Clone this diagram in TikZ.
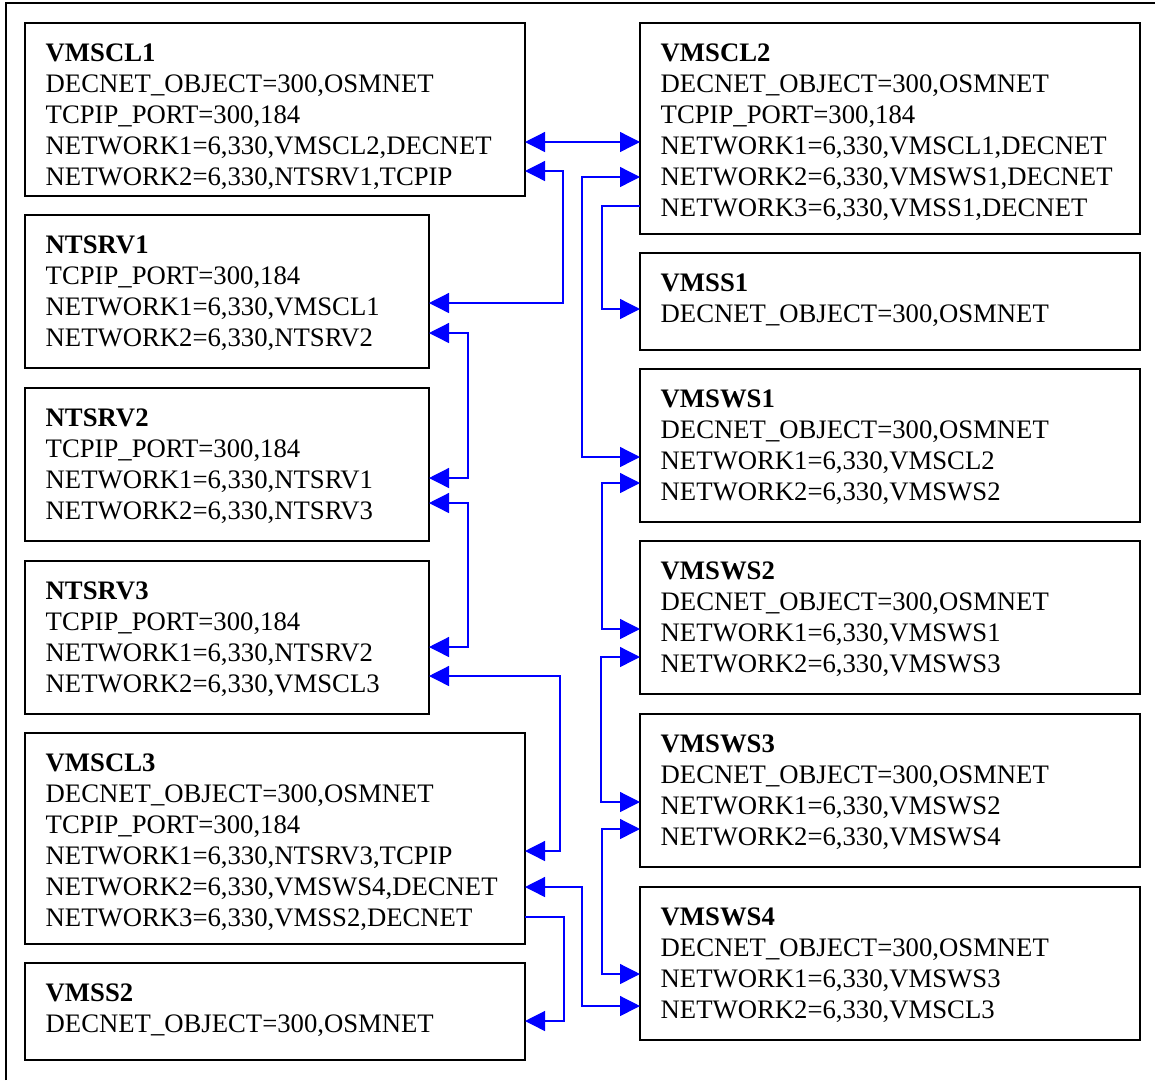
\documentclass[tikz,border=0pt]{standalone}
\usepackage{fontspec}
\setmainfont{Liberation Serif}
\usetikzlibrary{arrows.meta,calc}
\tikzset{
  box/.style={draw=black, line width=1.6pt, anchor=north west, inner sep=0pt, outer sep=0pt},
  txt/.style={anchor=base west, inner sep=0pt, font=\fontsize{26.7}{31}\selectfont},
  conn/.style={draw=blue, line width=1.3pt},
  >={Triangle[length=20pt,width=20pt]}
}
\newcommand\netbox[6]{%
  \node[box, minimum width=#4pt, minimum height=#5pt] (#1) at (#2,#3) {};
  \foreach \t [count=\i from 0] in {#6}
    \node[txt] (#1-\i) at ($(#1.north west)+(20.5,{38.5+31*\i})$) {\t};
}
\begin{document}
\begin{tikzpicture}[x=1pt,y=-1pt]
\useasboundingbox (0,0) rectangle (1155,1080);
\fill[white] (0,0) rectangle (1155,1080);
\draw[line width=2pt] (6,1080) -- (6,3) -- (1155,3);

\netbox{cl1}{25}{23}{500}{173}{{\textbf{VMSCL1}},{DECNET\_OBJECT=300,OSMNET},{TCPIP\_PORT=300,184},{NETWORK1=6,330,VMSCL2,DECNET},{NETWORK2=6,330,NTSRV1,TCPIP}}
\netbox{cl2}{640}{23}{500}{211}{{\textbf{VMSCL2}},{DECNET\_OBJECT=300,OSMNET},{TCPIP\_PORT=300,184},{NETWORK1=6,330,VMSCL1,DECNET},{NETWORK2=6,330,VMSWS1,DECNET},{NETWORK3=6,330,VMSS1,DECNET}}
\netbox{ns1}{25}{215}{404}{153}{{\textbf{NTSRV1}},{TCPIP\_PORT=300,184},{NETWORK1=6,330,VMSCL1},{NETWORK2=6,330,NTSRV2}}
\netbox{ns2}{25}{388}{404}{153}{{\textbf{NTSRV2}},{TCPIP\_PORT=300,184},{NETWORK1=6,330,NTSRV1},{NETWORK2=6,330,NTSRV3}}
\netbox{ns3}{25}{561}{404}{153}{{\textbf{NTSRV3}},{TCPIP\_PORT=300,184},{NETWORK1=6,330,NTSRV2},{NETWORK2=6,330,VMSCL3}}
\netbox{cl3}{25}{733}{500}{211}{{\textbf{VMSCL3}},{DECNET\_OBJECT=300,OSMNET},{TCPIP\_PORT=300,184},{NETWORK1=6,330,NTSRV3,TCPIP},{NETWORK2=6,330,VMSWS4,DECNET},{NETWORK3=6,330,VMSS2,DECNET}}
\netbox{ss2}{25}{963}{500}{97}{{\textbf{VMSS2}},{DECNET\_OBJECT=300,OSMNET}}
\netbox{ss1}{640}{253}{500}{97}{{\textbf{VMSS1}},{DECNET\_OBJECT=300,OSMNET}}
\netbox{ws1}{640}{369}{500}{153}{{\textbf{VMSWS1}},{DECNET\_OBJECT=300,OSMNET},{NETWORK1=6,330,VMSCL2},{NETWORK2=6,330,VMSWS2}}
\netbox{ws2}{640}{541}{500}{153}{{\textbf{VMSWS2}},{DECNET\_OBJECT=300,OSMNET},{NETWORK1=6,330,VMSWS1},{NETWORK2=6,330,VMSWS3}}
\netbox{ws3}{640}{714}{500}{153}{{\textbf{VMSWS3}},{DECNET\_OBJECT=300,OSMNET},{NETWORK1=6,330,VMSWS2},{NETWORK2=6,330,VMSWS4}}
\netbox{ws4}{640}{887}{500}{153}{{\textbf{VMSWS4}},{DECNET\_OBJECT=300,OSMNET},{NETWORK1=6,330,VMSWS3},{NETWORK2=6,330,VMSCL3}}

\draw[conn,<->] (cl1.east |- 0,142) -- (cl2.west |- 0,142);
\draw[conn,<->] (cl1.east |- 0,171) -- (563,171) -- (563,303) -- (ns1.east |- 0,303);
\draw[conn,<->] (ns1.east |- 0,333) -- (468,333) -- (468,478) -- (ns2.east |- 0,478);
\draw[conn,<->] (ns2.east |- 0,503) -- (468,503) -- (468,647) -- (ns3.east |- 0,647);
\draw[conn,<->] (ns3.east |- 0,676) -- (560,676) -- (560,851) -- (cl3.east |- 0,851);
\draw[conn,<->] (cl3.east |- 0,887) -- (582,887) -- (582,1006) -- (ws4.west |- 0,1006);
\draw[conn,->] (cl3.east |- 0,917) -- (564,917) -- (564,1021) -- (ss2.east |- 0,1021);
\draw[conn,<->] (cl2.west |- 0,177) -- (582,177) -- (582,457) -- (ws1.west |- 0,457);
\draw[conn,->] (cl2.west |- 0,206) -- (602,206) -- (602,309) -- (ss1.west |- 0,309);
\draw[conn,<->] (ws1.west |- 0,483) -- (602,483) -- (602,629) -- (ws2.west |- 0,629);
\draw[conn,<->] (ws2.west |- 0,657) -- (601,657) -- (601,802) -- (ws3.west |- 0,802);
\draw[conn,<->] (ws3.west |- 0,829) -- (602,829) -- (602,974) -- (ws4.west |- 0,974);
\end{tikzpicture}
\end{document}
